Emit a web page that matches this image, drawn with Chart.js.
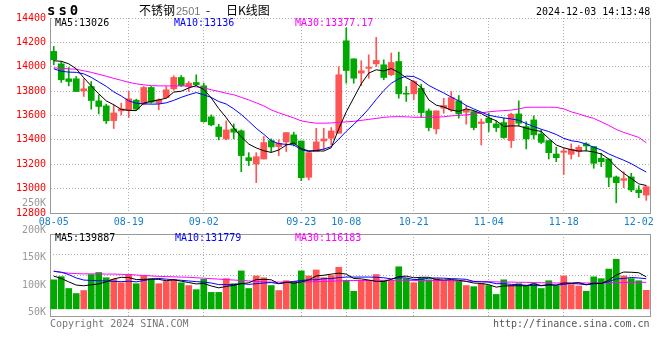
<!DOCTYPE html>
<html>
  <head>
    <meta charset="utf-8">
    <title>不锈钢2501 日K线图</title>
    <style>
      body { margin: 0; background: #fff; }
      #wrap { position: relative; width: 660px; height: 360px; overflow: hidden; }
      #wrap canvas { position: absolute; left: 0; }
      .t { position: absolute; white-space: nowrap; line-height: 12px; font: 10px "DejaVu Sans Mono", monospace; }
      .cjk { font: 12px "Noto Sans CJK SC", sans-serif; line-height: 14px; }
    </style>
    <script src="https://cdn.jsdelivr.net/npm/chart.js"></script>
  </head>
  <body>
    <div id="wrap">
      <canvas id="kline-chart" width="660" height="232" style="top:0"></canvas>
      <canvas id="volume-chart" width="660" height="136" style="top:190px"></canvas>

      <div class="t" style="left:47px;top:2px;font:bold 14px 'DejaVu Sans Mono';letter-spacing:3px;line-height:16px">ss0</div>
      <div class="t cjk" style="left:139px;top:3px">不锈钢</div>
      <div class="t" style="left:176px;top:4px;font:11px 'Liberation Sans';color:#777;line-height:14px">2501</div>
      <div class="t cjk" style="left:206px;top:3px">-</div>
      <div class="t cjk" style="left:226px;top:3px">日K线图</div>
      <div class="t" style="left:536px;top:6px">2024-12-03 14:13:48</div>

      <div class="t" style="left:55px;top:17px;color:#000">MA5:13026</div>
      <div class="t" style="left:174px;top:17px;color:#0000ff">MA10:13136</div>
      <div class="t" style="left:295px;top:17px;color:#ff00ff">MA30:13377.17</div>

      <div class="t" style="left:55px;top:232px;color:#000">MA5:139887</div>
      <div class="t" style="left:175px;top:232px;color:#0000ff">MA10:131779</div>
      <div class="t" style="left:295px;top:232px;color:#ff00ff">MA30:116183</div>

      <div class="t" style="left:50px;top:318px;color:#777">Copyright 2024 SINA.COM</div>
      <div class="t" style="left:493px;top:318px;color:#555">http://finance.sina.com.cn</div>
    </div>

    <script>
      // trading days, 08-05 .. 12-03
      const dates = [
        "08-05", "08-06", "08-07", "08-08", "08-09", "08-12", "08-13", "08-14", "08-15", "08-16",
        "08-19", "08-20", "08-21", "08-22", "08-23", "08-26", "08-27", "08-28", "08-29", "08-30",
        "09-02", "09-03", "09-04", "09-05", "09-06", "09-09", "09-10", "09-11", "09-12", "09-13",
        "09-18", "09-19", "09-20", "09-23", "09-24", "09-25", "09-26", "09-27", "09-30", "10-08",
        "10-09", "10-10", "10-11", "10-14", "10-15", "10-16", "10-17", "10-18", "10-21", "10-22",
        "10-23", "10-24", "10-25", "10-28", "10-29", "10-30", "10-31", "11-01", "11-04", "11-05",
        "11-06", "11-07", "11-08", "11-11", "11-12", "11-13", "11-14", "11-15", "11-18", "11-19",
        "11-20", "11-21", "11-22", "11-25", "11-26", "11-27", "11-28", "11-29", "12-02", "12-03"
      ];
      const labelDates = ["08-05", "08-19", "09-02", "09-23", "10-08", "10-21", "11-04", "11-18", "12-02"];
      const priceTicks = [12800, 13000, 13200, 13400, 13600, 13800, 14000, 14200, 14400];
      const volumeTicks = [50000, 100000, 150000, 200000, 250000];

      const open = [
        14126, 14024, 13901, 13901, 13802, 13838, 13720, 13679, 13558, 13638,
        13641, 13726, 13693, 13830, 13701, 13747, 13819, 13912, 13838, 13871,
        13843, 13589, 13506, 13408, 13490, 13474, 13254, 13202, 13243, 13394,
        13345, 13383, 13441, 13391, 13093, 13304, 13391, 13413, 13454, 14213,
        14065, 13948, 13987, 14024, 14016, 13934, 14043, 13783, 13778, 13824,
        13638, 13490, 13660, 13646, 13720, 13627, 13632, 13534, 13578, 13531,
        13542, 13394, 13613, 13509, 13564, 13449, 13394, 13284, 13298, 13282,
        13304, 13367, 13345, 13249, 13243, 13096, 13068, 13096, 12989, 12947
      ];
      const close = [
        14057, 13893, 13879, 13797, 13819, 13723, 13674, 13556, 13621, 13654,
        13737, 13652, 13830, 13709, 13728, 13811, 13912, 13846, 13865, 13852,
        13550, 13523, 13427, 13482, 13463, 13271, 13230, 13262, 13378, 13342,
        13372, 13460, 13364, 13090, 13295, 13383, 13408, 13473, 13934, 13969,
        13906, 13967, 13997, 14052, 13912, 14035, 13778, 13775, 13879, 13624,
        13501, 13638, 13682, 13747, 13613, 13646, 13501, 13547, 13542, 13501,
        13419, 13610, 13537, 13408, 13441, 13380, 13295, 13254, 13309, 13323,
        13339, 13350, 13208, 13221, 13093, 13049, 13082, 12989, 12967, 13016
      ];
      const high = [
        14167, 14043, 13994, 13920, 13901, 13879, 13769, 13693, 13687, 13701,
        13797, 13734, 13838, 13838, 13737, 13838, 13926, 13928, 13879, 13934,
        13865, 13605, 13528, 13556, 13531, 13482, 13295, 13295, 13427, 13408,
        13400, 13460, 13463, 13391, 13295, 13495, 13495, 13501, 14000, 14318,
        14065, 14049, 14098, 14241, 14057, 14112, 14120, 13838, 13887, 13857,
        13654, 13638, 13742, 13797, 13764, 13679, 13638, 13572, 13619, 13556,
        13578, 13619, 13720, 13550, 13597, 13482, 13394, 13339, 13331, 13367,
        13353, 13378, 13345, 13290, 13243, 13104, 13139, 13126, 13024, 13024
      ];
      const low = [
        14016, 13871, 13843, 13797, 13756, 13652, 13613, 13534, 13493, 13605,
        13583, 13641, 13687, 13701, 13646, 13742, 13808, 13838, 13797, 13846,
        13545, 13515, 13400, 13400, 13408, 13139, 13189, 13049, 13243, 13298,
        13271, 13304, 13350, 13065, 13071, 13304, 13317, 13358, 13454, 13866,
        13865, 13846, 13906, 14002, 13893, 13928, 13742, 13715, 13728, 13583,
        13474, 13449, 13619, 13632, 13578, 13528, 13482, 13358, 13468, 13468,
        13413, 13337, 13515, 13326, 13408, 13370, 13243, 13221, 13117, 13243,
        13262, 13309, 13167, 13180, 13016, 12884, 13008, 12975, 12926, 12904
      ];

      const ma5 = [
        14049, 14045, 14024, 13983, 13910, 13842, 13778, 13720, 13688, 13650,
        13642, 13640, 13702, 13716, 13728, 13742, 13792, 13799, 13826, 13845,
        13814, 13744, 13657, 13582, 13498, 13425, 13366, 13334, 13311, 13297,
        13317, 13357, 13375, 13328, 13310, 13311, 13308, 13336, 13490, 13630,
        13745, 13860, 13948, 13975, 13966, 13985, 13953, 13910, 13878, 13830,
        13728, 13685, 13670, 13644, 13634, 13654, 13640, 13616, 13582, 13557,
        13510, 13515, 13514, 13496, 13480, 13469, 13412, 13358, 13335, 13319,
        13308, 13310, 13301, 13284, 13243, 13176, 13126, 13083, 13039, 13026
      ];
      const ma10 = [
        13983, 13963, 13956, 13954, 13942, 13913, 13876, 13839, 13794, 13760,
        13720, 13700, 13696, 13693, 13694, 13704, 13724, 13749, 13770, 13788,
        13770, 13748, 13715, 13694, 13655, 13608, 13553, 13495, 13446, 13392,
        13369, 13363, 13358, 13320, 13304, 13313, 13324, 13345, 13406, 13470,
        13526, 13588, 13655, 13732, 13805, 13864, 13901, 13923, 13920, 13891,
        13847, 13815, 13785, 13751, 13720, 13682, 13654, 13628, 13602, 13590,
        13580, 13572, 13561, 13533, 13510, 13487, 13468, 13444, 13413, 13393,
        13384, 13365, 13339, 13317, 13285, 13258, 13233, 13205, 13170, 13136
      ];
      const ma30 = [
        13991, 13987, 13983, 13979, 13967, 13954, 13938, 13922, 13905, 13889,
        13872, 13860, 13852, 13845, 13843, 13843, 13843, 13843, 13842, 13835,
        13826, 13811, 13798, 13782, 13770, 13749, 13728, 13704, 13679, 13646,
        13622, 13601, 13580, 13556, 13545, 13537, 13537, 13539, 13543, 13548,
        13552, 13560, 13568, 13576, 13585, 13589, 13591, 13589, 13586, 13585,
        13585, 13586, 13590, 13597, 13601, 13605, 13613, 13622, 13630, 13636,
        13640, 13644, 13654, 13667, 13668, 13668, 13668, 13667, 13654, 13630,
        13613, 13593, 13576, 13548, 13519, 13486, 13461, 13441, 13420, 13377
      ];

      const volume = [
        127000, 141000, 89000, 67000, 80000, 150000, 159000, 136000, 129000, 114000,
        149000, 110000, 144000, 132000, 110000, 120000, 127000, 114000, 102000, 84000,
        129000, 72000, 72000, 132000, 110000, 166000, 89000, 144000, 136000, 102000,
        80000, 123000, 119000, 166000, 144000, 170000, 136000, 146000, 182000, 124000,
        77000, 124000, 124000, 150000, 124000, 124000, 184000, 132000, 114000, 135000,
        127000, 132000, 120000, 124000, 120000, 102000, 97000, 110000, 102000, 63000,
        127000, 103000, 110000, 100000, 110000, 89000, 123000, 100000, 144000, 106000,
        100000, 77000, 140000, 132000, 174000, 217000, 144000, 132000, 123000, 81000
      ];
      const volMa5 = [
        143000, 133000, 118000, 104000, 101000, 105000, 109000, 118000, 131000, 138000,
        137000, 128000, 129000, 130000, 129000, 123000, 127000, 121000, 115000, 109000,
        111000, 100000, 92000, 98000, 103000, 110000, 114000, 128000, 129000, 127000,
        110000, 117000, 112000, 118000, 126000, 144000, 147000, 152000, 156000, 152000,
        133000, 131000, 126000, 120000, 120000, 129000, 141000, 143000, 136000, 138000,
        138000, 128000, 126000, 128000, 125000, 120000, 113000, 111000, 106000, 95000,
        100000, 101000, 101000, 101000, 110000, 102000, 106000, 104000, 113000, 112000,
        115000, 105000, 113000, 111000, 125000, 148000, 161000, 160000, 158000, 139887
      ];
      const volMa10 = [
        164000, 160000, 150000, 135000, 126000, 124000, 123000, 122000, 120000, 119000,
        121000, 118000, 124000, 130000, 133000, 130000, 127000, 125000, 122000, 119000,
        117000, 113000, 106000, 106000, 106000, 111000, 107000, 110000, 113000, 115000,
        110000, 115000, 120000, 124000, 127000, 127000, 132000, 132000, 137000, 139000,
        139000, 139000, 139000, 138000, 136000, 131000, 136000, 135000, 128000, 129000,
        134000, 135000, 134000, 132000, 131000, 129000, 120000, 118000, 117000, 110000,
        110000, 107000, 106000, 103000, 102000, 101000, 104000, 103000, 107000, 111000,
        109000, 106000, 109000, 112000, 119000, 131000, 133000, 137000, 135000, 131779
      ];
      const volMa30 = [
        165000, 160000, 156000, 154000, 153000, 153000, 153000, 152000, 152000, 151000,
        150000, 148000, 146000, 144000, 142000, 141000, 140000, 139000, 138000, 136000,
        134000, 132000, 130000, 128000, 126000, 124000, 122000, 120000, 118000, 117000,
        117000, 117000, 117000, 117000, 118000, 119000, 120000, 121000, 122000, 123000,
        124000, 124000, 124000, 125000, 125000, 125000, 125000, 125000, 124000, 124000,
        124000, 124000, 123000, 123000, 122000, 121000, 120000, 120000, 119000, 118000,
        117000, 117000, 116000, 116000, 115000, 114000, 114000, 113000, 113000, 113000,
        113000, 113000, 113000, 113000, 114000, 115000, 115000, 116000, 116000, 116183
      ];

      const UP = "#ff5555";
      const DOWN = "#00a800";
      const GRID = "#b0b0b0";
      const FRAME = "#999";
      const mono = { family: "'DejaVu Sans Mono', monospace", size: 10 };
      const candleColors = close.map((c, i) => (c >= open[i] ? UP : DOWN));
      const innerDates = labelDates.slice(1, -1);

      const maLine = (label, data, color) => ({
        type: "line",
        label,
        data,
        borderColor: color,
        borderWidth: 1,
        pointRadius: 0,
        tension: 0,
        order: 1,
      });

      function xAxis(showLabels) {
        return {
          type: "category",
          offset: true,
          grid: {
            offset: false,
            drawTicks: false,
            color: (ctx) => (innerDates.includes(dates[ctx.index]) ? GRID : "rgba(0,0,0,0)"),
          },
          border: { display: true, color: FRAME, dash: [1, 2] },
          ticks: {
            display: showLabels,
            autoSkip: false,
            maxRotation: 0,
            padding: 3,
            color: "#1780c8",
            font: mono,
            callback: (v, i) => (labelDates.includes(dates[i]) ? dates[i] : ""),
          },
          afterFit: (s) => { s.height = showLabels ? 19 : 0; },
        };
      }

      const rightFrame = {
        type: "linear",
        position: "right",
        grid: { display: false },
        ticks: { display: false },
        border: { display: true, color: FRAME },
        afterFit: (s) => { s.width = 10; },
      };

      const common = {
        responsive: false,
        animation: false,
        events: [],
        plugins: { legend: { display: false }, tooltip: { enabled: false } },
      };

      new Chart(document.getElementById("kline-chart"), {
        data: {
          labels: dates,
          datasets: [
            maLine("MA5", ma5, "#000000"),
            maLine("MA10", ma10, "#0000ff"),
            maLine("MA30", ma30, "#ff00ff"),
            {
              type: "bar",
              label: "body",
              data: open.map((o, i) => [o, close[i]]),
              backgroundColor: candleColors,
              barThickness: 6,
              minBarLength: 1,
              grouped: false,
              order: 2,
            },
            {
              type: "bar",
              label: "shadow",
              data: low.map((l, i) => [l, high[i]]),
              backgroundColor: candleColors,
              barThickness: 1,
              grouped: false,
              order: 3,
            },
          ],
        },
        options: {
          ...common,
          layout: { padding: { top: 18, left: 0, right: 0, bottom: 0 } },
          scales: {
            x: xAxis(true),
            y: {
              type: "linear",
              position: "left",
              min: priceTicks[0],
              max: priceTicks[priceTicks.length - 1],
              afterBuildTicks: (s) => { s.ticks = priceTicks.map((v) => ({ value: v })); },
              grid: { color: GRID, drawTicks: false },
              border: { display: true, color: FRAME, dash: [1, 2] },
              ticks: {
                color: "#ff0000",
                font: mono,
                padding: 4,
                autoSkip: false,
                callback: (v) => String(v),
              },
              afterFit: (s) => { s.width = 50; },
            },
            yR: rightFrame,
          },
        },
      });

      new Chart(document.getElementById("volume-chart"), {
        data: {
          labels: dates,
          datasets: [
            maLine("MA5", volMa5, "#000000"),
            maLine("MA10", volMa10, "#0000ff"),
            maLine("MA30", volMa30, "#ff00ff"),
            {
              type: "bar",
              label: "volume",
              data: volume,
              backgroundColor: candleColors,
              barThickness: 6,
              grouped: false,
              order: 2,
            },
          ],
        },
        options: {
          ...common,
          layout: { padding: { top: 44, left: 0, right: 0, bottom: 8 } },
          scales: {
            x: xAxis(false),
            xTop: {
              type: "category",
              position: "top",
              offset: true,
              grid: { display: false },
              ticks: { display: false },
              border: { display: true, color: FRAME },
              afterFit: (s) => { s.height = 0; },
            },
            y: {
              type: "linear",
              position: "left",
              min: -31300,
              max: 327400,
              afterBuildTicks: (s) => {
                s.ticks = [0, 1, 2, 3, 4].map((k) => ({ value: s.min + ((s.max - s.min) * k) / 4 }));
              },
              grid: { color: GRID, drawTicks: false },
              border: { display: false, dash: [1, 2] },
              ticks: { display: false },
              afterFit: (s) => { s.width = 0; },
            },
            yLab: {
              type: "linear",
              position: "left",
              min: 43200,
              max: 193200,
              afterBuildTicks: (s) => { s.ticks = volumeTicks.map((v) => ({ value: v })); },
              grid: { display: false, drawTicks: false },
              border: { display: true, color: FRAME },
              ticks: {
                color: "#999",
                font: mono,
                padding: 4,
                autoSkip: false,
                callback: (v) => v / 1000 + "K",
              },
              afterFit: (s) => { s.width = 50; },
            },
            yR: rightFrame,
          },
        },
      });
    </script>
  </body>
</html>
